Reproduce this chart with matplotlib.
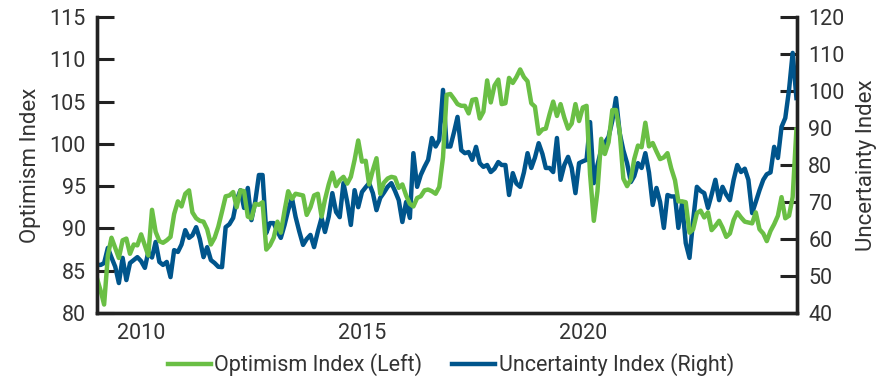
import pandas as pd
import numpy as np
import matplotlib
matplotlib.use("Agg")
import matplotlib.pyplot as plt

plt.rcParams['font.family'] = ['Roboto', 'DejaVu Sans']

# monthly, Jan 2009 - Nov 2024
dates = pd.date_range("2009-01-01", periods=191, freq="MS")

optimism = [
    84.1, 82.6, 81.0, 86.8, 88.9, 87.7, 86.5, 88.6, 88.8, 87.0, 88.1, 88.0,
    89.3, 88.0, 86.8, 92.2, 89.6, 88.5, 88.3, 88.6, 89.0, 91.7, 93.2, 92.6,
    94.1, 94.5, 91.9, 91.2, 90.9, 90.8, 89.9, 88.1, 88.9, 90.2, 92.0, 93.8,
    93.9, 94.3, 92.5, 94.5, 94.4, 91.4, 91.2, 92.9, 92.8, 93.1, 87.5, 88.0,
    88.9, 90.8, 89.5, 92.1, 94.4, 93.5, 94.1, 94.0, 93.9, 91.6, 92.5, 93.9,
    94.1, 91.4, 93.4, 95.2, 96.6, 95.0, 95.7, 96.1, 95.3, 96.1, 98.1, 100.4,
    97.9, 98.0, 95.2, 96.9, 98.3, 94.1, 95.4, 95.9, 96.1, 96.0, 94.8, 95.2,
    93.9, 92.9, 92.6, 93.6, 93.8, 94.5, 94.6, 94.4, 94.1, 94.9, 98.4, 105.8,
    105.9, 105.3, 104.7, 104.5, 104.5, 103.6, 105.2, 105.3, 103.0, 103.8, 107.5, 104.9,
    106.9, 107.6, 104.7, 104.8, 107.8, 107.2, 107.9, 108.8, 107.9, 107.4, 104.8, 104.4,
    101.2, 101.7, 101.8, 103.5, 105.0, 103.3, 104.7, 103.1, 101.8, 102.4, 104.7, 102.7,
    104.3, 104.5, 96.4, 90.9, 94.4, 100.6, 98.8, 100.2, 104.0, 104.0, 101.4, 95.9,
    95.0, 95.8, 98.2, 99.8, 99.6, 102.5, 99.7, 100.1, 99.1, 98.2, 98.4, 98.9,
    97.1, 95.7, 93.2, 93.2, 93.1, 89.5, 89.9, 91.8, 92.1, 91.3, 91.9, 89.8,
    90.3, 90.9, 90.1, 89.0, 89.4, 91.0, 91.9, 91.3, 90.8, 90.7, 90.6, 91.9,
    89.9, 89.4, 88.5, 89.7, 90.5, 91.5, 93.7, 91.2, 91.5, 93.7, 101.7,
]

uncertainty = [
    53, 53, 53.5, 57.6, 55, 52.5, 48.1, 54.9, 48.9, 53.5, 54.3, 55.1,
    54, 52.2, 56.5, 55, 59.2, 53.8, 53, 53.8, 49.7, 57, 56.5, 58.5,
    62.4, 60.3, 61, 63.2, 60, 55.1, 57.8, 54.3, 53.5, 52.5, 52.4, 63.2,
    64, 65.7, 70.5, 73.2, 68.4, 73.8, 65.1, 70, 77.3, 77.3, 61.6, 64.3,
    64.3, 62, 60.3, 63.8, 67.8, 71.1, 66, 62, 58.4, 60, 61.1, 57.8,
    62, 65.7, 61.9, 66, 72.4, 67.3, 65.9, 75.1, 70, 63.8, 73.2, 68.6,
    72.7, 74, 75.1, 72.4, 67.8, 71.1, 72.5, 74.1, 75.1, 73, 70.5, 64.6,
    70, 65.7, 83.2, 74.1, 77.3, 79.5, 81.4, 87.3, 85, 86.8, 100.3, 85,
    85, 89, 93, 84, 83.2, 83.5, 81.4, 84.9, 80.5, 79.5, 80, 78.1,
    79, 80.8, 80, 80, 71.9, 77.8, 75, 74.1, 78, 83.2, 79.2, 82,
    85.9, 83, 79.2, 79.2, 78.1, 87.3, 76, 80, 82.2, 79.2, 72.4, 80.5,
    81, 81.4, 91.6, 75.1, 80, 84.1, 86, 87.6, 92, 98.1, 88.6, 84,
    80.5, 75.4, 77, 80.5, 79.2, 83.2, 78, 69.2, 73.8, 70, 63, 71.9,
    71.5, 71.5, 63, 69.7, 58.9, 54.9, 65, 74.1, 73, 72.4, 68.4, 72,
    76, 70.5, 74.1, 72, 70.5, 76, 80, 78.1, 79, 76, 67, 70,
    73.2, 76, 77.5, 78, 84.9, 81.9, 90.3, 92.7, 100.3, 110.3, 98.1,
]

green = "#6abf45"
blue = "#00558c"
dark = "#222222"
textc = "#333333"

fig = plt.figure(figsize=(8.84, 3.84), dpi=100)
ax = fig.add_axes([0.1097, 0.1849, 0.7919, 0.7708])
ax2 = ax.twinx()

ax.plot(dates, optimism, color=green, lw=3.2, label="Optimism Index (Left)")
ax2.plot(dates, uncertainty, color=blue, lw=3.2, label="Uncertainty Index (Right)")

# green on top of blue
ax.set_zorder(ax2.get_zorder() + 1)
ax.patch.set_visible(False)

ax.set_xlim(pd.Timestamp("2009-01-01"), pd.Timestamp("2024-11-06"))
ax.set_ylim(80, 115)
ax2.set_ylim(40, 120)
ax.set_yticks(np.arange(80, 116, 5))
ax2.set_yticks(np.arange(40, 121, 10))
ax.set_xticks(pd.to_datetime(["2010-01-01", "2015-01-01", "2020-01-01"]))
ax.set_xticklabels(["2010", "2015", "2020"])

for a in (ax, ax2):
    a.spines["top"].set_visible(False)
    for s in ("left", "right", "bottom"):
        a.spines[s].set_color(dark)
        a.spines[s].set_linewidth(2.4)

ax.tick_params(axis="y", direction="in", length=12, width=2.2, color=dark,
               labelsize=15.5, pad=8, labelcolor=textc)
ax2.tick_params(axis="y", direction="in", length=12, width=2.2, color=dark,
                labelsize=15.5, pad=8, labelcolor=textc)
ax.tick_params(axis="x", length=0, labelsize=15.5, pad=7, labelcolor=textc)

ax.set_ylabel("Optimism Index", fontsize=16, color=textc, labelpad=6)
ax2.set_ylabel("Uncertainty Index", fontsize=16, color=textc, labelpad=8)

h1, l1 = ax.get_legend_handles_labels()
h2, l2 = ax2.get_legend_handles_labels()
fig.legend(h1 + h2, l1 + l2, loc="lower center", bbox_to_anchor=(0.51, -0.03),
           ncol=2, frameon=False, fontsize=15.5, handlelength=2.0,
           handletextpad=0.15, columnspacing=1.4, labelcolor=textc)

fig.savefig("out.png", dpi=100)
